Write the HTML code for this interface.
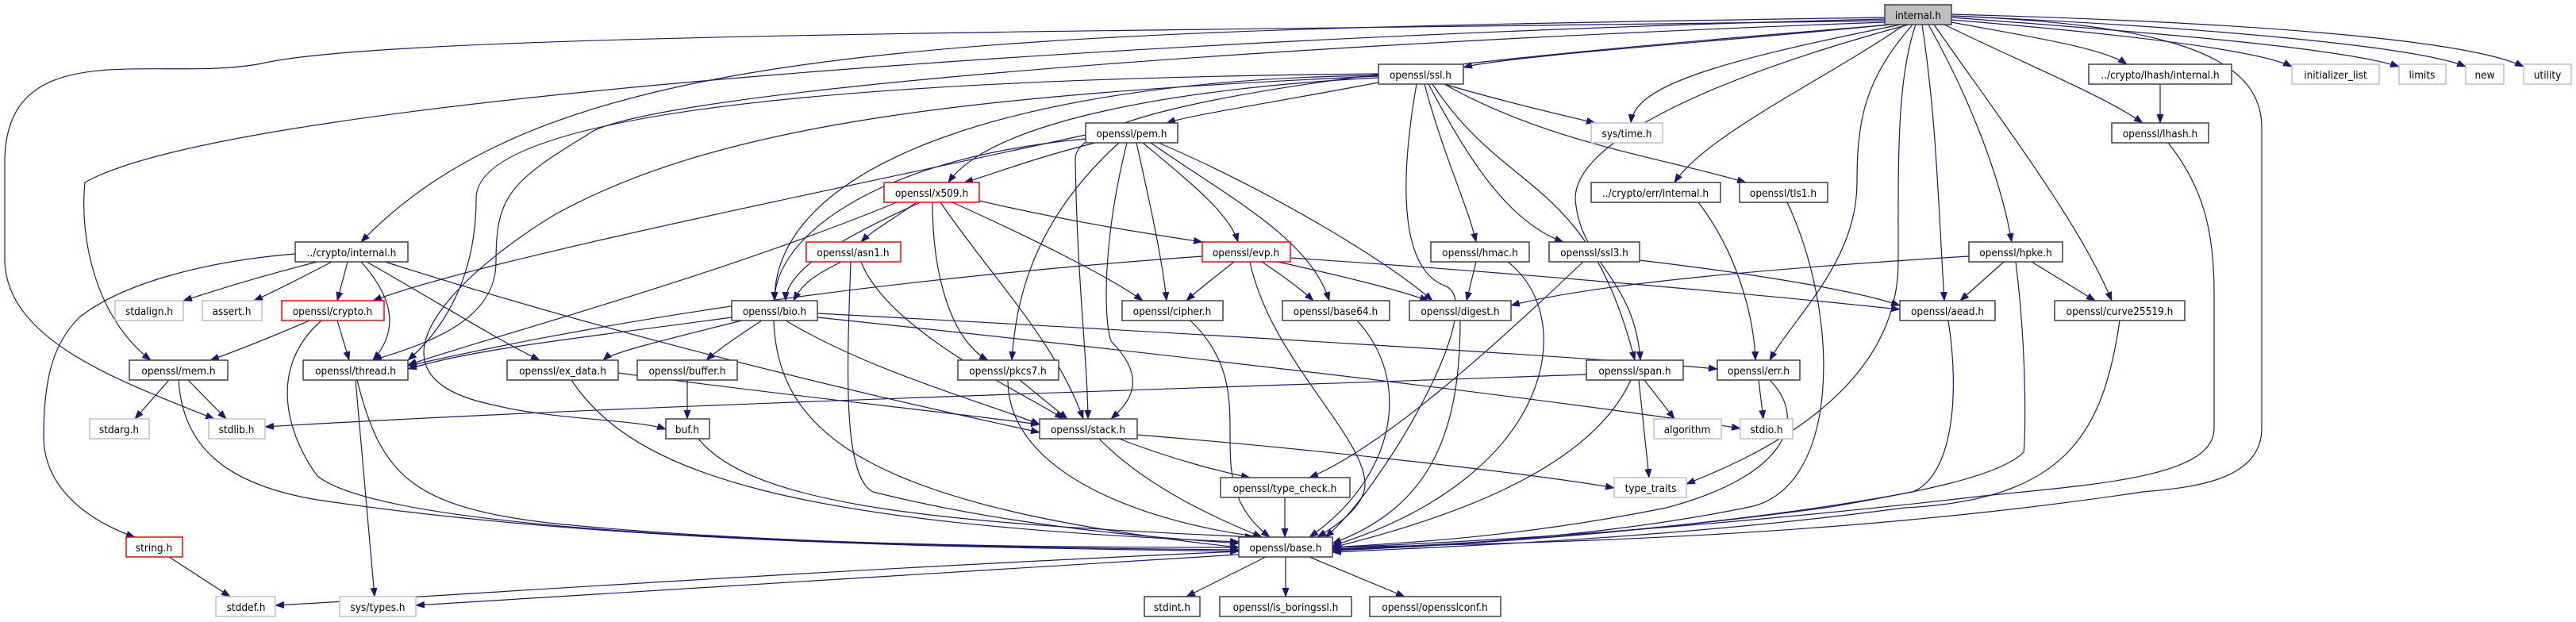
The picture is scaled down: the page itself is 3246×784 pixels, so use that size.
<!DOCTYPE html>
<html><head><meta charset="utf-8"><style>
html,body{margin:0;padding:0;background:#fff;}
svg{display:block;}
text{font-family:"DejaVu Sans Condensed","Liberation Sans",sans-serif;font-size:13.5px;fill:#000;text-anchor:middle;}
.e{fill:none;stroke:#191970;stroke-width:1.2;marker-end:url(#a);}
.n{fill:#fff;stroke:#404040;stroke-width:1.5;}
.g{fill:#fff;stroke:#bfbfbf;stroke-width:1.5;}
.r{fill:#fff;stroke:#ff0000;stroke-width:1.5;}
</style></head><body>
<svg width="3246" height="784" viewBox="0 0 3246 784" xmlns="http://www.w3.org/2000/svg">
<defs><marker id="a" markerWidth="12" markerHeight="9" refX="11" refY="4.5" orient="auto" markerUnits="userSpaceOnUse"><path d="M0,0 L12,4.5 L0,9 z" fill="#191970"/></marker></defs>
<g>
<path class="e" d="M2375,22 C1200,40 700,50 455,305"/>
<path class="e" d="M2375,24 C1500,45 300,120 107,230 C100,300 120,400 190,454"/>
<path class="e" d="M2375,26 C1500,40 500,40 330,80 C200,105 10,40 6,200 L6,330 C10,430 150,480 270,528"/>
<path class="e" d="M2375,28 C1500,60 800,120 740,170 C640,230 625,250 625,330 C625,400 550,430 470,454"/>
<path class="e" d="M2380,31 C2200,50 1900,70 1844,85"/>
<path class="e" d="M2385,31 C1900,70 1355,120 1355,200 C1357,350 1370,450 1371,528"/>
<path class="e" d="M2395,31 C2150,80 2060,110 2055,155"/>
<path class="e" d="M2400,31 C2300,100 2150,170 2110,230"/>
<path class="e" d="M2405,31 C2150,100 1985,180 1985,250 C1990,330 2060,350 2067,454"/>
<path class="e" d="M2410,31 C2350,100 2340,150 2340,230 C2340,330 2260,400 2230,454"/>
<path class="e" d="M2414,31 C2390,100 2392,200 2392,330 C2392,500 2200,580 2125,610"/>
<path class="e" d="M2422,31 C2440,150 2442,250 2450,379"/>
<path class="e" d="M2430,31 C2480,120 2520,220 2535,305"/>
<path class="e" d="M2437,31 C2520,150 2620,280 2661,379"/>
<path class="e" d="M2450,31 C2550,80 2650,120 2700,155"/>
<path class="e" d="M2459,28 C2550,45 2650,60 2680,81"/>
<path class="e" d="M2459,25 C2700,45 2850,65 2888,84"/>
<path class="e" d="M2459,22 C2700,40 2950,60 3023,84"/>
<path class="e" d="M2459,20 C2800,35 3050,60 3107,84"/>
<path class="e" d="M2459,18 C2900,30 3120,55 3180,84"/>
<path class="e" d="M2459,20 C2700,30 2850,60 2850,160 L2850,540 C2850,610 2750,615 2700,620 C2300,680 1900,685 1679,690"/>
<path class="e" d="M1737,104 C1600,130 1500,145 1470,155"/>
<path class="e" d="M1820,106 C1900,130 1990,150 2010,155"/>
<path class="e" d="M1737,98 C1500,110 1250,150 1195,230"/>
<path class="e" d="M1737,95 C1300,100 976,200 976,379"/>
<path class="e" d="M1737,93 C1000,100 600,150 600,250 C600,380 530,440 514,454"/>
<path class="e" d="M1785,106 C1760,250 1770,340 1820,360 C1880,380 1740,620 1670,677"/>
<path class="e" d="M1795,106 C1820,200 1850,260 1860,305"/>
<path class="e" d="M1800,106 C1850,200 1900,280 1970,305"/>
<path class="e" d="M1805,106 C1900,250 2000,220 2060,454"/>
<path class="e" d="M1820,106 C1950,180 2100,200 2200,230"/>
<path class="e" d="M1737,96 C1200,120 900,160 700,270 C600,330 430,470 620,510 C700,530 800,528 839,541"/>
<path class="e" d="M1380,180 C1300,200 1250,220 1215,230"/>
<path class="e" d="M1440,180 C1500,230 1550,270 1560,305"/>
<path class="e" d="M1432,180 C1450,260 1465,330 1470,379"/>
<path class="e" d="M1460,180 C1600,240 1750,330 1805,379"/>
<path class="e" d="M1450,180 C1550,250 1650,300 1675,379"/>
<path class="e" d="M1410,180 C1300,280 1280,380 1275,454"/>
<path class="e" d="M1420,180 C1390,300 1390,400 1400,430 C1450,480 1420,510 1400,528"/>
<path class="e" d="M1368,175 C1100,200 976,300 976,379"/>
<path class="e" d="M1368,170 C1000,250 600,330 470,379"/>
<path class="e" d="M1155,255 C1120,280 1100,290 1085,305"/>
<path class="e" d="M1160,255 C1060,300 990,340 990,379"/>
<path class="e" d="M1234,253 C1350,280 1450,295 1515,305"/>
<path class="e" d="M1200,255 C1300,300 1400,350 1440,379"/>
<path class="e" d="M1175,255 C1175,350 1200,430 1245,454"/>
<path class="e" d="M1185,255 C1250,350 1330,430 1365,528"/>
<path class="e" d="M1130,255 C900,350 600,430 514,460"/>
<path class="e" d="M1060,330 C1020,350 1010,360 1000,379"/>
<path class="e" d="M1085,330 C1120,420 1300,500 1340,528"/>
<path class="e" d="M1072,330 C1068,450 1060,600 1100,620 C1300,670 1500,680 1561,685"/>
<path class="e" d="M1555,330 C1530,350 1510,365 1495,379"/>
<path class="e" d="M1590,330 C1620,350 1640,365 1655,379"/>
<path class="e" d="M1610,330 C1700,350 1760,365 1800,379"/>
<path class="e" d="M1626,325 C2000,350 2300,380 2394,390"/>
<path class="e" d="M1515,323 C1000,360 700,420 514,461"/>
<path class="e" d="M1575,330 C1600,450 1720,550 1720,610 C1720,640 1680,665 1660,677"/>
<path class="e" d="M922,400 C700,430 600,440 514,465"/>
<path class="e" d="M935,404 C830,430 770,445 760,454"/>
<path class="e" d="M960,404 C920,430 900,445 890,454"/>
<path class="e" d="M990,404 C1100,470 1250,510 1310,535"/>
<path class="e" d="M975,404 C980,550 1100,640 1561,690"/>
<path class="e" d="M1030,395 C1500,420 2000,450 2164,465"/>
<path class="e" d="M1030,400 C1600,460 2000,510 2193,540"/>
<path class="e" d="M400,330 C320,350 260,370 231,379"/>
<path class="e" d="M418,330 C380,350 340,370 320,379"/>
<path class="e" d="M438,330 L425,379"/>
<path class="e" d="M455,330 C500,380 500,420 470,454"/>
<path class="e" d="M462,330 C550,380 630,430 680,454"/>
<path class="e" d="M485,330 C800,430 1100,500 1310,545"/>
<path class="e" d="M372,320 C250,330 150,360 100,400 C70,430 55,470 55,550 C55,620 120,660 170,677"/>
<path class="e" d="M390,404 C330,430 290,445 265,454"/>
<path class="e" d="M425,404 L440,454"/>
<path class="e" d="M405,404 C330,470 370,560 400,600 C500,680 1200,690 1561,693"/>
<path class="e" d="M213,479 L170,528"/>
<path class="e" d="M237,479 L285,528"/>
<path class="e" d="M225,479 C230,560 280,610 400,630 C800,690 1300,690 1561,695"/>
<path class="e" d="M448,479 L472,752"/>
<path class="e" d="M450,479 C480,600 520,640 700,660 C1000,690 1400,690 1561,690"/>
<path class="e" d="M779,470 C1000,500 1200,520 1310,535"/>
<path class="e" d="M720,479 C800,600 1000,660 1561,683"/>
<path class="e" d="M866,479 L866,528"/>
<path class="e" d="M880,553 C950,640 1200,660 1580,677"/>
<path class="e" d="M213,702 L290,752"/>
<path class="e" d="M1410,553 C1480,580 1540,595 1575,602"/>
<path class="e" d="M1385,553 C1450,620 1550,660 1590,677"/>
<path class="e" d="M1433,548 C1700,570 1950,600 2034,615"/>
<path class="e" d="M1619,627 L1619,677"/>
<path class="e" d="M1561,695 C1000,720 500,755 347,763"/>
<path class="e" d="M1561,699 C1100,730 700,750 524,763"/>
<path class="e" d="M1595,702 L1495,752"/>
<path class="e" d="M1620,702 L1620,752"/>
<path class="e" d="M1650,702 L1770,752"/>
<path class="e" d="M1285,479 L1345,528"/>
<path class="e" d="M1270,479 C1270,600 1450,660 1590,677"/>
<path class="e" d="M1500,404 C1600,500 1500,600 1600,677"/>
<path class="e" d="M1710,404 C1780,480 1760,600 1650,677"/>
<path class="e" d="M1840,404 C1840,550 1800,640 1679,685"/>
<path class="e" d="M1860,330 L1848,379"/>
<path class="e" d="M1900,330 C1990,400 1960,600 1679,688"/>
<path class="e" d="M2066,328 C2250,350 2350,370 2394,385"/>
<path class="e" d="M1995,330 C1900,420 1750,560 1650,602"/>
<path class="e" d="M1999,472 C1500,490 800,510 334,538"/>
<path class="e" d="M2072,479 L2110,528"/>
<path class="e" d="M2065,479 L2078,602"/>
<path class="e" d="M2055,479 C2000,600 1800,660 1679,690"/>
<path class="e" d="M2216,479 L2222,528"/>
<path class="e" d="M2230,479 C2280,530 2250,600 2100,640 C1900,680 1750,685 1679,690"/>
<path class="e" d="M2140,255 C2190,320 2210,400 2212,454"/>
<path class="e" d="M2252,255 C2320,400 2320,620 2200,640 C2000,680 1800,688 1679,692"/>
<path class="e" d="M2722,106 L2722,155"/>
<path class="e" d="M2732,180 C2780,240 2790,300 2790,370 L2790,540 C2790,600 2650,610 2500,625 C2200,660 1900,682 1679,690"/>
<path class="e" d="M2481,323 C2200,340 2000,360 1904,385"/>
<path class="e" d="M2525,330 L2470,379"/>
<path class="e" d="M2560,330 L2640,379"/>
<path class="e" d="M2540,330 C2555,450 2552,560 2550,570 C2520,600 2420,620 2300,640 C2000,680 1800,688 1679,693"/>
<path class="e" d="M2455,404 C2470,500 2460,600 2410,620 C2200,660 1900,685 1679,694"/>
<path class="e" d="M2671,404 C2650,550 2600,630 2400,640 C2100,680 1800,690 1679,696"/>
</g>
<g>
<rect x="2375" y="6" width="84" height="25" fill="#bfbfbf" stroke="#404040" stroke-width="1.5"/><text x="2417" y="24">internal.h</text>
<rect class="n" x="1737" y="81" width="107" height="25"/><text x="1790" y="99">openssl/ssl.h</text>
<rect class="n" x="2632" y="81" width="180" height="25"/><text x="2722" y="99">../crypto/lhash/internal.h</text>
<rect class="g" x="2888" y="81" width="110" height="25"/><text x="2943" y="99">initializer_list</text>
<rect class="g" x="3023" y="81" width="59" height="25"/><text x="3052" y="99">limits</text>
<rect class="g" x="3107" y="81" width="48" height="25"/><text x="3131" y="99">new</text>
<rect class="g" x="3180" y="81" width="60" height="25"/><text x="3210" y="99">utility</text>
<rect class="n" x="1368" y="155" width="116" height="25"/><text x="1426" y="173">openssl/pem.h</text>
<rect class="g" x="2005" y="155" width="90" height="25"/><text x="2050" y="173">sys/time.h</text>
<rect class="n" x="2661" y="155" width="122" height="25"/><text x="2722" y="173">openssl/lhash.h</text>
<rect class="r" x="1114" y="230" width="120" height="25"/><text x="1174" y="248">openssl/x509.h</text>
<rect class="n" x="2005" y="230" width="163" height="25"/><text x="2086" y="248">../crypto/err/internal.h</text>
<rect class="n" x="2192" y="230" width="111" height="25"/><text x="2247" y="248">openssl/tls1.h</text>
<rect class="n" x="372" y="305" width="142" height="25"/><text x="443" y="323">../crypto/internal.h</text>
<rect class="r" x="1016" y="305" width="119" height="25"/><text x="1075" y="323">openssl/asn1.h</text>
<rect class="r" x="1515" y="305" width="111" height="25"/><text x="1570" y="323">openssl/evp.h</text>
<rect class="n" x="1803" y="305" width="124" height="25"/><text x="1865" y="323">openssl/hmac.h</text>
<rect class="n" x="1952" y="305" width="114" height="25"/><text x="2009" y="323">openssl/ssl3.h</text>
<rect class="n" x="2481" y="305" width="118" height="25"/><text x="2540" y="323">openssl/hpke.h</text>
<rect class="g" x="145" y="379" width="86" height="25"/><text x="188" y="397">stdalign.h</text>
<rect class="g" x="255" y="379" width="75" height="25"/><text x="292" y="397">assert.h</text>
<rect class="r" x="355" y="379" width="129" height="25"/><text x="419" y="397">openssl/crypto.h</text>
<rect class="n" x="922" y="379" width="108" height="25"/><text x="976" y="397">openssl/bio.h</text>
<rect class="n" x="1414" y="379" width="127" height="25"/><text x="1477" y="397">openssl/cipher.h</text>
<rect class="n" x="1616" y="379" width="135" height="25"/><text x="1683" y="397">openssl/base64.h</text>
<rect class="n" x="1776" y="379" width="128" height="25"/><text x="1840" y="397">openssl/digest.h</text>
<rect class="n" x="2394" y="379" width="120" height="25"/><text x="2454" y="397">openssl/aead.h</text>
<rect class="n" x="2589" y="379" width="164" height="25"/><text x="2671" y="397">openssl/curve25519.h</text>
<rect class="n" x="163" y="454" width="124" height="25"/><text x="225" y="472">openssl/mem.h</text>
<rect class="n" x="382" y="454" width="132" height="25"/><text x="448" y="472">openssl/thread.h</text>
<rect class="n" x="639" y="454" width="140" height="25"/><text x="709" y="472">openssl/ex_data.h</text>
<rect class="n" x="803" y="454" width="126" height="25"/><text x="866" y="472">openssl/buffer.h</text>
<rect class="n" x="1207" y="454" width="127" height="25"/><text x="1270" y="472">openssl/pkcs7.h</text>
<rect class="n" x="1999" y="454" width="122" height="25"/><text x="2060" y="472">openssl/span.h</text>
<rect class="n" x="2164" y="454" width="104" height="25"/><text x="2216" y="472">openssl/err.h</text>
<rect class="g" x="113" y="528" width="75" height="25"/><text x="150" y="546">stdarg.h</text>
<rect class="g" x="263" y="528" width="71" height="25"/><text x="298" y="546">stdlib.h</text>
<rect class="n" x="839" y="528" width="55" height="25"/><text x="866" y="546">buf.h</text>
<rect class="n" x="1310" y="528" width="123" height="25"/><text x="1371" y="546">openssl/stack.h</text>
<rect class="g" x="2084" y="528" width="85" height="25"/><text x="2126" y="546">algorithm</text>
<rect class="g" x="2193" y="528" width="66" height="25"/><text x="2226" y="546">stdio.h</text>
<rect class="n" x="1538" y="602" width="163" height="25"/><text x="1619" y="620">openssl/type_check.h</text>
<rect class="g" x="2034" y="602" width="91" height="25"/><text x="2080" y="620">type_traits</text>
<rect class="r" x="159" y="677" width="71" height="25"/><text x="194" y="695">string.h</text>
<rect class="n" x="1561" y="677" width="118" height="25"/><text x="1620" y="695">openssl/base.h</text>
<rect class="g" x="272" y="752" width="75" height="25"/><text x="310" y="770">stddef.h</text>
<rect class="g" x="428" y="752" width="96" height="25"/><text x="476" y="770">sys/types.h</text>
<rect class="n" x="1442" y="752" width="70" height="25"/><text x="1477" y="770">stdint.h</text>
<rect class="n" x="1537" y="752" width="166" height="25"/><text x="1620" y="770">openssl/is_boringssl.h</text>
<rect class="n" x="1726" y="752" width="165" height="25"/><text x="1808" y="770">openssl/opensslconf.h</text>
</g>
</svg>
</body></html>
